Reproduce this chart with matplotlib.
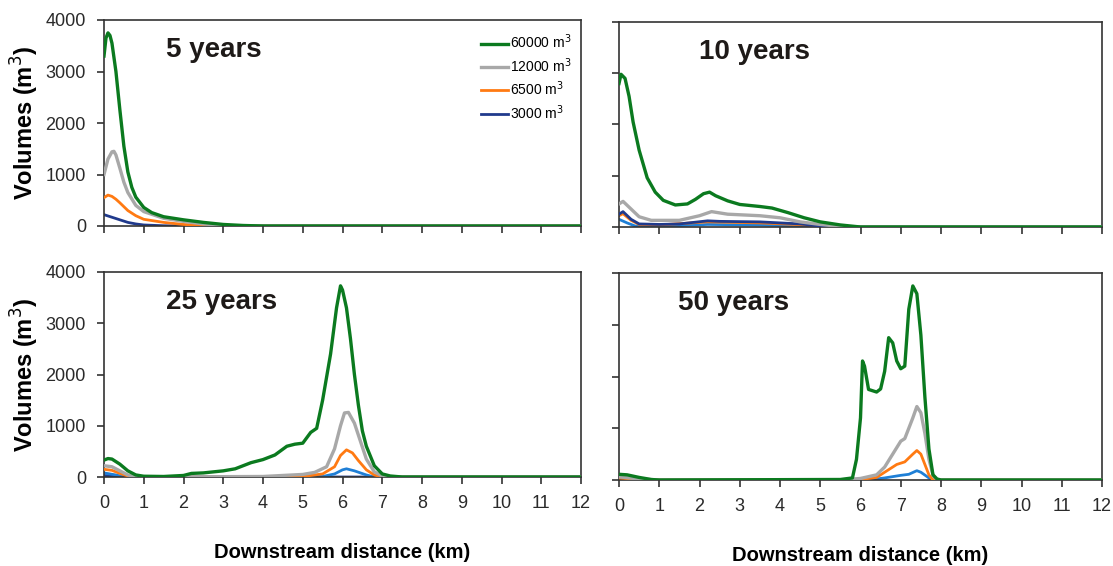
import matplotlib
matplotlib.use("Agg")
import matplotlib.pyplot as plt

plt.rcParams['font.family'] = ['Liberation Sans', 'DejaVu Sans']

# ---------------- data ----------------
labels = ["60000 m$^3$", "12000 m$^3$", "6500 m$^3$", "3000 m$^3$"]

# 5 years
y5_green_x = [0, 0.05, 0.1, 0.15, 0.2, 0.3, 0.4, 0.5, 0.6, 0.7, 0.8, 1.0, 1.2, 1.5, 2.0, 2.5, 3.0, 3.5, 4.0, 12]
y5_green_v = [3300, 3650, 3750, 3700, 3550, 3000, 2250, 1550, 1050, 750, 560, 360, 260, 180, 120, 70, 30, 10, 0, 0]
y5_gray_x = [0, 0.1, 0.2, 0.25, 0.3, 0.4, 0.5, 0.6, 0.8, 1.0, 1.5, 2.0, 2.5, 3.0, 3.5, 12]
y5_gray_v = [1000, 1300, 1440, 1450, 1380, 1120, 850, 650, 400, 280, 150, 90, 40, 10, 0, 0]
y5_orange_x = [0, 0.1, 0.2, 0.3, 0.4, 0.6, 0.8, 1.0, 1.5, 2.0, 2.5, 3.0, 12]
y5_orange_v = [550, 600, 575, 520, 450, 300, 200, 130, 70, 30, 10, 0, 0]
y5_navy_x = [0, 0.2, 0.4, 0.6, 0.8, 1.0, 1.5, 2.0, 12]
y5_navy_v = [220, 170, 120, 70, 40, 20, 5, 0, 0]

# 10 years
y10_green_x = [0, 0.05, 0.15, 0.25, 0.35, 0.5, 0.7, 0.9, 1.1, 1.4, 1.7, 1.9, 2.1, 2.25, 2.4, 2.7, 3.0, 3.5, 3.8, 4.2,
               4.6, 5.0, 5.5, 6.0, 12]
y10_green_v = [2800, 2980, 2900, 2550, 2050, 1500, 960, 680, 520, 430, 450, 540, 650, 680, 610, 510, 440, 400, 370, 280,
               180, 100, 40, 0, 0]
y10_gray_x = [0, 0.1, 0.3, 0.5, 0.8, 1.5, 2.0, 2.3, 2.7, 3.5, 4.0, 4.5, 5.0, 5.5, 6.0, 12]
y10_gray_v = [450, 500, 350, 200, 130, 130, 220, 300, 250, 220, 180, 100, 50, 10, 0, 0]
y10_orange_x = [0, 0.1, 0.3, 0.5, 1.0, 2.2, 3.5, 4.5, 5.0, 5.5, 12]
y10_orange_v = [220, 260, 130, 50, 40, 100, 80, 45, 15, 0, 0]
y10_navy_x = [0, 0.1, 0.3, 0.5, 1.0, 1.5, 2.2, 2.5, 3.5, 4.5, 5.0, 5.5, 12]
y10_navy_v = [250, 300, 150, 60, 50, 60, 120, 110, 100, 60, 20, 0, 0]
y10_light_x = [0, 0.2, 0.4, 1.0, 2.2, 3.5, 4.5, 5.5, 12]
y10_light_v = [150, 80, 20, 10, 50, 40, 20, 0, 0]

# 25 years
y25_green_x = [0, 0.1, 0.2, 0.4, 0.6, 0.8, 1.0, 1.5, 2.0, 2.2, 2.5, 3.0, 3.3, 3.7, 4.0, 4.3, 4.6, 4.8, 5.0, 5.2, 5.35,
               5.5, 5.7, 5.85, 5.95, 6.0, 6.1, 6.2, 6.3, 6.4, 6.5, 6.6, 6.8, 7.0, 7.2, 7.5, 12]
y25_green_v = [330, 360, 350, 250, 120, 40, 15, 10, 30, 70, 80, 120, 160, 280, 340, 430, 600, 640, 660, 870, 950,
               1500, 2400, 3300, 3730, 3650, 3300, 2700, 2000, 1400, 900, 600, 220, 60, 20, 0, 0]
y25_gray_x = [0, 0.2, 0.4, 0.6, 0.8, 1.0, 4.0, 5.0, 5.3, 5.6, 5.8, 5.95, 6.05, 6.15, 6.3, 6.45, 6.6, 6.8, 7.0, 7.2, 12]
y25_gray_v = [220, 200, 120, 40, 10, 0, 10, 50, 90, 200, 550, 1000, 1250, 1260, 1050, 700, 350, 100, 20, 0, 0]
y25_orange_x = [0, 0.2, 0.4, 0.6, 0.8, 5.0, 5.5, 5.8, 5.95, 6.1, 6.25, 6.4, 6.6, 6.8, 7.0, 12]
y25_orange_v = [150, 130, 70, 20, 0, 10, 60, 200, 420, 530, 470, 320, 140, 40, 0, 0]
y25_navy_x = [0, 0.3, 0.5, 12]
y25_navy_v = [30, 10, 0, 0]
y25_light_x = [0, 0.3, 0.5, 0.6, 5.5, 5.8, 6.0, 6.1, 6.3, 6.6, 6.8, 12]
y25_light_v = [80, 40, 5, 0, 10, 60, 140, 160, 120, 40, 0, 0]

# 50 years
y50_green_x = [0, 0.2, 0.5, 0.8, 1.0, 5.5, 5.8, 5.9, 6.0, 6.05, 6.1, 6.2, 6.4, 6.5, 6.6, 6.7, 6.8, 6.9, 7.0, 7.1,
               7.2, 7.3, 7.4, 7.5, 7.6, 7.7, 7.8, 7.9, 8.0, 12]
y50_green_v = [110, 100, 50, 10, 0, 10, 40, 400, 1200, 2300, 2200, 1750, 1700, 1760, 2100, 2750, 2650, 2300, 2150, 2200,
               3300, 3750, 3600, 2800, 1600, 600, 100, 20, 0, 0]
y50_gray_x = [0, 0.5, 1.0, 5.5, 6.0, 6.4, 6.6, 6.8, 7.0, 7.1, 7.3, 7.4, 7.5, 7.6, 7.7, 7.8, 7.9, 12]
y50_gray_v = [60, 20, 0, 0, 30, 100, 250, 500, 750, 800, 1200, 1420, 1300, 900, 400, 100, 0, 0]
y50_orange_x = [0, 0.5, 1.0, 6.0, 6.4, 6.7, 6.9, 7.1, 7.3, 7.4, 7.5, 7.6, 7.7, 7.8, 12]
y50_orange_v = [40, 10, 0, 10, 50, 200, 300, 350, 500, 570, 500, 300, 100, 0, 0]
y50_light_x = [0, 0.5, 6.2, 6.6, 7.0, 7.2, 7.4, 7.5, 7.7, 7.8, 12]
y50_light_v = [20, 0, 0, 40, 90, 110, 180, 150, 40, 0, 0]

x_ticks = list(range(0, 13))
y_ticks = [0, 1000, 2000, 3000, 4000]
titles = ["5 years", "10 years", "25 years", "50 years"]

# ---------------- style ----------------
C_GREEN = "#0b7a1f"
C_GRAY = "#a8a8a8"
C_ORANGE = "#ff7a12"
C_NAVY = "#203a8c"
C_LIGHT = "#1f7fd6"
C_SPINE = "#333333"

fig = plt.figure(figsize=(11.13, 5.66), dpi=100)
W, H = 1113, 566

def box(l, t, r, b):
    return [l / W, 1 - b / H, (r - l) / W, (b - t) / H]

ax1 = fig.add_axes(box(104, 20, 581, 226))
ax2 = fig.add_axes(box(619, 22, 1102, 227))
ax3 = fig.add_axes(box(104, 272, 581, 477))
ax4 = fig.add_axes(box(619, 273, 1102, 480))

lw = 2.0
# panel 1
h4, = ax1.plot(y5_navy_x, y5_navy_v, color=C_NAVY, lw=lw, zorder=2)
h3, = ax1.plot(y5_orange_x, y5_orange_v, color=C_ORANGE, lw=lw, zorder=3)
h2, = ax1.plot(y5_gray_x, y5_gray_v, color=C_GRAY, lw=lw + 0.4, zorder=4)
h1, = ax1.plot(y5_green_x, y5_green_v, color=C_GREEN, lw=lw + 0.4, zorder=5)
# panel 2
ax2.plot(y10_light_x, y10_light_v, color=C_LIGHT, lw=lw, zorder=1)
ax2.plot(y10_orange_x, y10_orange_v, color=C_ORANGE, lw=lw, zorder=2)
ax2.plot(y10_navy_x, y10_navy_v, color=C_NAVY, lw=lw, zorder=3)
ax2.plot(y10_gray_x, y10_gray_v, color=C_GRAY, lw=lw + 0.4, zorder=4)
ax2.plot(y10_green_x, y10_green_v, color=C_GREEN, lw=lw + 0.4, zorder=5)
# panel 3
ax3.plot(y25_navy_x, y25_navy_v, color=C_NAVY, lw=lw, zorder=1)
ax3.plot(y25_light_x, y25_light_v, color=C_LIGHT, lw=lw, zorder=2)
ax3.plot(y25_orange_x, y25_orange_v, color=C_ORANGE, lw=lw, zorder=3)
ax3.plot(y25_gray_x, y25_gray_v, color=C_GRAY, lw=lw + 0.4, zorder=4)
ax3.plot(y25_green_x, y25_green_v, color=C_GREEN, lw=lw + 0.4, zorder=5)
# panel 4
ax4.plot(y50_light_x, y50_light_v, color=C_LIGHT, lw=lw, zorder=2)
ax4.plot(y50_orange_x, y50_orange_v, color=C_ORANGE, lw=lw, zorder=3)
ax4.plot(y50_gray_x, y50_gray_v, color=C_GRAY, lw=lw + 0.4, zorder=4)
ax4.plot(y50_green_x, y50_green_v, color=C_GREEN, lw=lw + 0.4, zorder=5)

title_x = [0.13, 0.165, 0.13, 0.122]
for i, ax in enumerate([ax1, ax2, ax3, ax4]):
    ax.set_xlim(0, 12)
    ax.set_ylim(0, 4000)
    ax.set_xticks(x_ticks)
    ax.set_yticks(y_ticks)
    for s in ax.spines.values():
        s.set_color(C_SPINE)
        s.set_linewidth(1.2)
    ax.tick_params(axis='both', direction='out', length=5, width=1.2, color=C_SPINE,
                   labelsize=13, labelcolor="#2a2a2a")
    ax.tick_params(axis='y', pad=8)
    ax.tick_params(axis='x', pad=8)
    ax.text(title_x[i], 0.855, titles[i], transform=ax.transAxes, fontsize=20, fontweight='bold',
            color="#1e1a18", va='center', ha='left')
    if i in (0, 1):
        ax.tick_params(axis='x', labelbottom=False)
    if i in (1, 3):
        ax.tick_params(axis='y', labelleft=False)
    if i in (0, 2):
        ax.set_ylabel("Volumes (m$^3$)", fontsize=17, fontweight='bold', labelpad=3)
    if i in (2, 3):
        ax.set_xlabel("Downstream distance (km)", fontsize=14.5, fontweight='bold', labelpad=22)

leg = ax1.legend([h1, h2, h3, h4], labels, loc='upper right', bbox_to_anchor=(1.0, 0.985),
                 frameon=False, fontsize=10, handlelength=2.0, handletextpad=0.1,
                 labelspacing=0.35, borderaxespad=0.3)

fig.savefig("out.png", dpi=100)
